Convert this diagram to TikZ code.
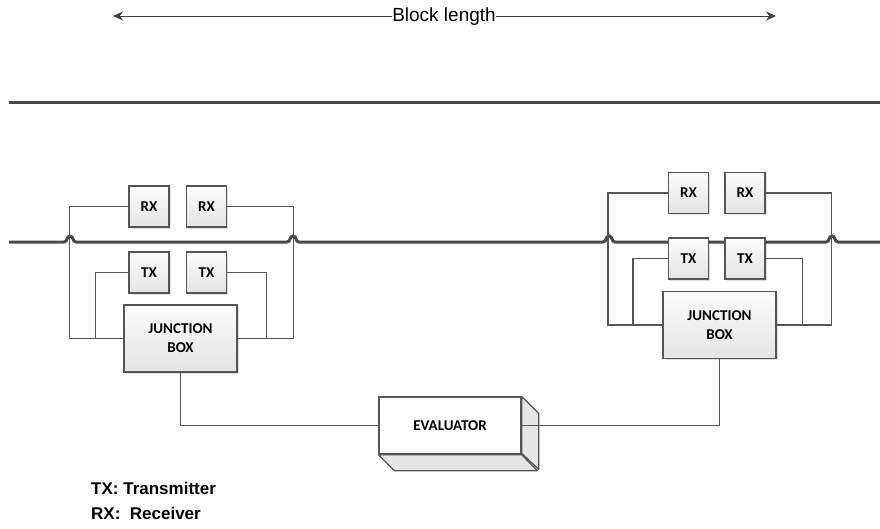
\documentclass[tikz,border=0pt]{standalone}
\usepackage{fontspec}
\setmainfont{Liberation Sans}
\newfontfamily\boxfont{Carlito}
\usetikzlibrary{arrows.meta,shadows}
\definecolor{edge}{HTML}{555555}
\definecolor{rail}{HTML}{4A4A4A}
\definecolor{boxtop}{HTML}{FCFCFC}
\definecolor{boxbot}{HTML}{E4E4E4}
\definecolor{depth}{HTML}{E6E6E6}
\begin{document}
\begin{tikzpicture}[x=1pt,y=-1pt,
  unit/.style={draw=edge, line width=1.3pt, top color=boxtop, bottom color=boxbot,
    minimum width=40pt, minimum height=41pt, inner sep=0pt,
    font=\boxfont\bfseries\fontsize{15}{18}\selectfont,
    drop shadow={shadow xshift=1.5pt, shadow yshift=-1.5pt, fill=black, opacity=0.12}},
  jbox/.style={unit, minimum width=113pt, minimum height=67pt, align=center},
  wire/.style={draw=edge, line width=1.3pt},
  railline/.style={draw=rail, line width=3pt},
  dim/.style={draw=black!75, line width=1pt},
]
\useasboundingbox (0,0) rectangle (880,528);

% dimension arrow
\node[fill=white, inner sep=0.5pt, font=\fontsize{19}{22}\selectfont] (bl) at (444,17) {Block length};
\coordinate (al) at (113,16);
\coordinate (ar) at (776,16);
\draw[dim, -{Stealth[length=10pt, width=9pt]}] (bl.west |- al) -- (al);
\draw[dim, -{Stealth[length=10pt, width=9pt]}] (bl.east |- ar) -- (ar);

% upper rail
\coordinate (topL) at (9,102);
\coordinate (topR) at (880,102);
\draw[railline] (topL) -- (topR);

% lower rail with hops over the crossing wires
\coordinate (railL) at (9,242);
\coordinate (railR) at (880,242);
\draw[railline] (railL) -- (64,242) .. controls (68,242) and (66,236) .. (70,236)
  .. controls (74,236) and (72,242) .. (76,242) -- (287,242)
  .. controls (291,242) and (289,236) .. (293,236)
  .. controls (297,236) and (295,242) .. (299,242) -- (603,242)
  .. controls (607,242) and (605,236) .. (609,236)
  .. controls (613,236) and (611,242) .. (615,242) -- (826,242)
  .. controls (830,242) and (828,236) .. (832,236)
  .. controls (836,236) and (834,242) .. (838,242) -- (railR);

% left station
\node[unit] (lrxa) at (149,206.5) {RX};
\node[unit] (lrxb) at (206.5,206.5) {RX};
\node[unit] (ltxa) at (149,272.5) {TX};
\node[unit] (ltxb) at (206.5,272.5) {TX};
\node[jbox] (ljb) at (180.5,338.5) {JUNCTION\\[1pt]BOX};

\draw[wire] (lrxa.west) -- ++(-59,0) |- (ljb.west);
\draw[wire] (lrxb.east) -- ++(66,0) |- (ljb.east);
\draw[wire] (ltxa.west) -- ++(-33,0) |- (ljb.west);
\draw[wire] (ltxb.east) -- ++(39,0) |- (ljb.east);

% right station
\node[unit] (rrxa) at (688.5,193) {RX};
\node[unit] (rrxb) at (745,193) {RX};
\node[unit] (rtxa) at (688.5,258.5) {TX};
\node[unit] (rtxb) at (745,258.5) {TX};
\node[jbox] (rjb) at (719.5,325) {JUNCTION\\[1pt]BOX};

\draw[wire] (rrxa.west) -- ++(-60,0) |- (rjb.west);
\draw[wire] (rrxb.east) -- ++(66,0) |- (rjb.east);
\draw[wire] (rtxa.west) -- ++(-35,0) |- (rjb.west);
\draw[wire] (rtxb.east) -- ++(37,0) |- (rjb.east);

% evaluator block with extruded faces
\node[draw=edge, line width=1.3pt, fill=white, minimum width=142pt, minimum height=57pt,
  inner sep=0pt, font=\boxfont\bfseries\fontsize{15}{18}\selectfont] (ev) at (450,425.5) {EVALUATOR};
\draw[draw=edge, line width=1.3pt, fill=depth, line join=round]
  (ev.north east) -- ++(17,17) -- ++(0,56) -- ++(-17,-16) -- cycle;
\draw[draw=edge, line width=1.3pt, fill=depth, line join=round]
  (ev.south west) -- ++(16,16) -- ++(143,0) -- (ev.south east) -- cycle;

\draw[wire] (ljb.south) |- (ev.west);
\draw[wire] (ev.east) -| (rjb.south);

% legend
\node[anchor=west, inner sep=0pt, font=\bfseries\fontsize{17}{20}\selectfont] (lgtx) at (91,488) {TX: Transmitter};
\node[anchor=west, inner sep=0pt, font=\bfseries\fontsize{17}{20}\selectfont] (lgrx) at (91,513) {RX:\ \ Receiver};
\end{tikzpicture}
\end{document}
